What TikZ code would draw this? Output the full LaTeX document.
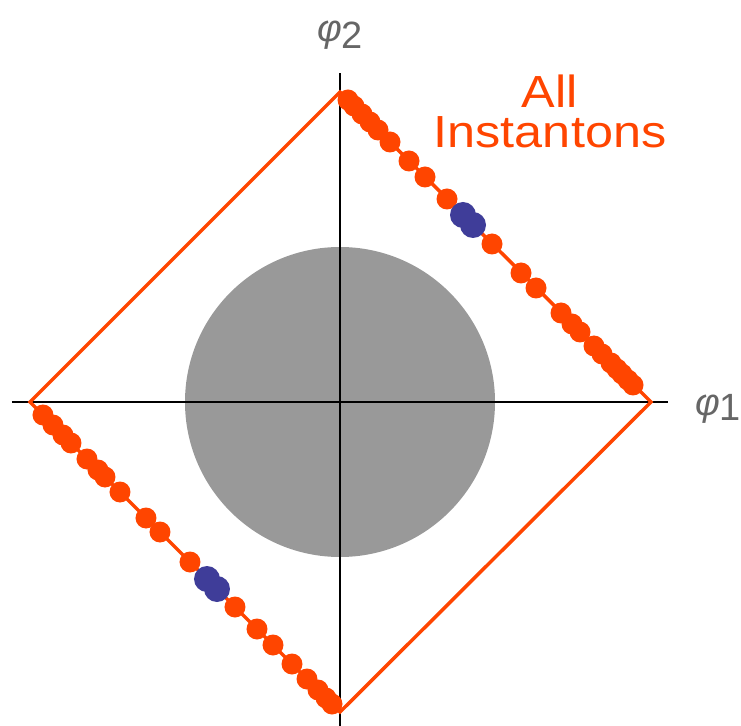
\documentclass[tikz,border=0pt]{standalone}
\usepackage{fontspec}
\setmainfont{Liberation Sans}
\newfontfamily\widefont[FakeStretch=1.12]{Liberation Sans}
\usetikzlibrary{positioning}
\definecolor{inst}{RGB}{255, 69, 0}
\definecolor{pick}{RGB}{63, 61, 153}
\definecolor{disk}{RGB}{153, 153, 153}
\definecolor{axlabel}{RGB}{102, 102, 102}

\begin{document}
\begin{tikzpicture}[x=1pt, y=1pt]
            \useasboundingbox (-340,-323) rectangle (401,402);
            % Ecken
            \coordinate (o) at (0,0);
            \coordinate (top) at (0,310);
            \coordinate (right) at (311,0);
            \coordinate (bottom) at (0,-310);
            \coordinate (left) at (-310,0);
            \coordinate (xl) at (-328,0);
            \coordinate (xr) at (328,0);
            \coordinate (yb) at (0,-330);
            \coordinate (yt) at (0,329);
            
            % Scheibe
            \fill[disk] (o) circle (155);
            
            % Achsen
            \draw[line width=2.5] (xl) -- (xr);
            \draw[line width=2.5] (yb) -- (yt);
            
            % Raute
            \draw[inst, line width=3.5, line join=miter] (top) -- (right) -- (bottom) -- (left) -- cycle;
            
            % Instantonen
            \foreach \t in {8,14,22,30,38,50,69,85,107,152,181,196,221,232,240,254,262,271,277,282,288,293}
                \fill[inst] (\t,310-\t) circle (10.5);
            \foreach \s in {13,23,33,41,57,68,75,90,116,130,160,205,227,243,262,277,288,296,302}
                \fill[inst] (-310+\s,-\s) circle (10.5);
            \foreach \t in {123,133}
                \fill[pick] (\t,310-\t) circle (13);
            \foreach \s in {177,187}
                \fill[pick] (-310+\s,-\s) circle (13);
            
            % Beschriftung
            \node[font=\fontsize{38}{38}\selectfont, text=axlabel, inner sep=0] (phi2) at (0,367) {{\itshape φ}\raisebox{-7pt}{2}};
            \node[font=\fontsize{38}{38}\selectfont, text=axlabel, inner sep=0] (phi1) at (378,-7) {{\itshape φ}\raisebox{-5pt}{1}};
            \node[font=\widefont\fontsize{45}{40}\selectfont, text=inst, align=center, inner sep=0] (allinst) at (210,291) {All\\Instantons};
        \end{tikzpicture}
\end{document}
